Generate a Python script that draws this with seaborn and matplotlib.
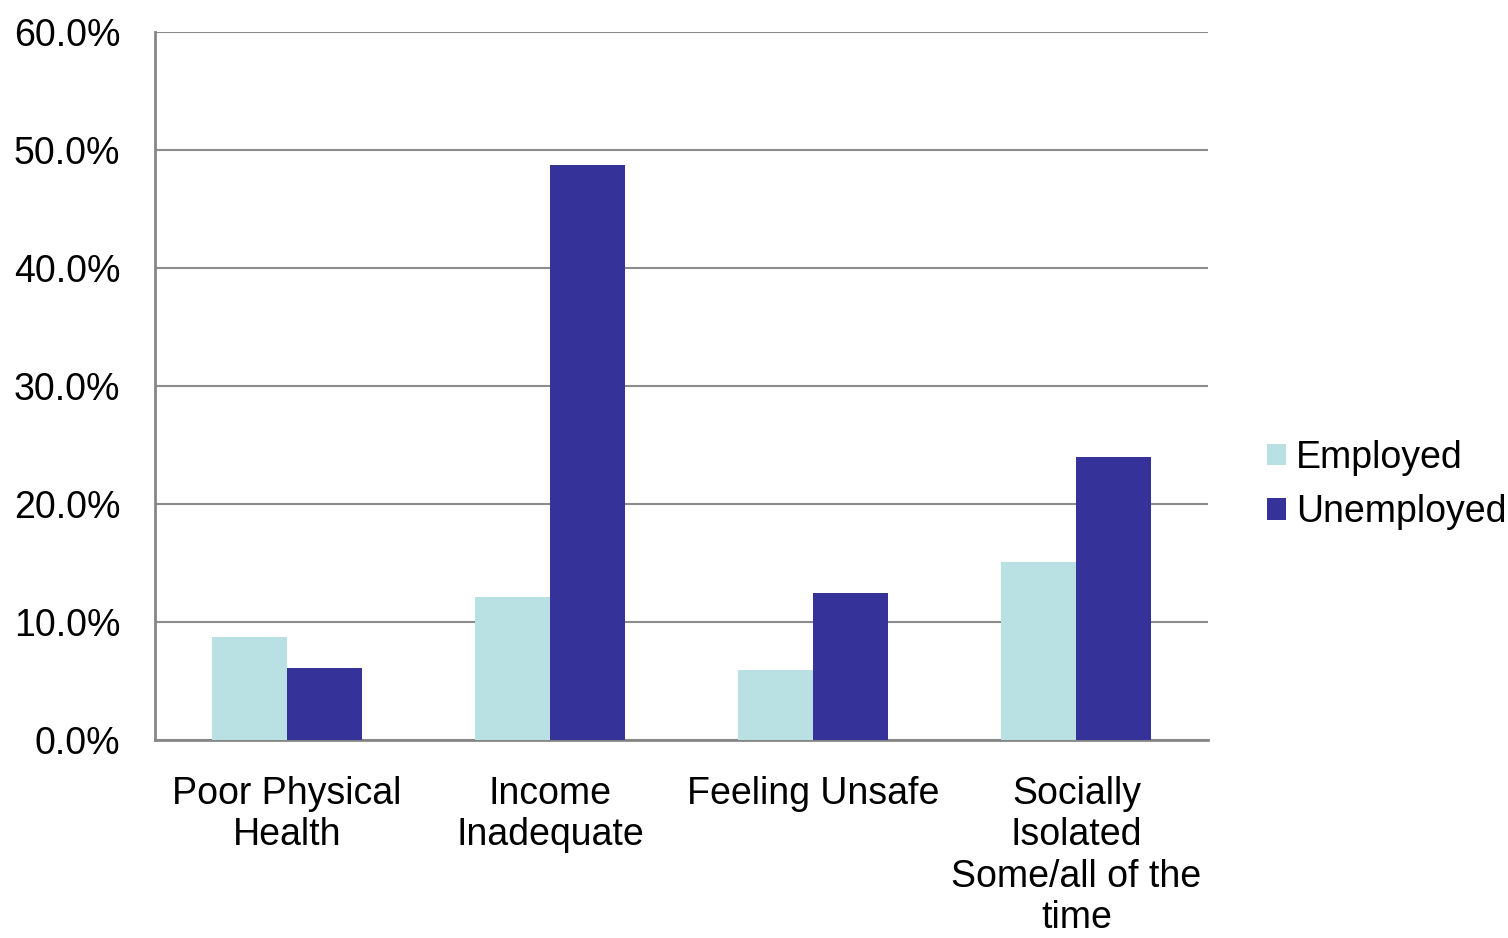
import matplotlib
matplotlib.use('Agg')
import matplotlib.pyplot as plt
from matplotlib import font_manager
import pandas as pd
import seaborn as sns
from matplotlib.ticker import PercentFormatter

# Data
categories = ['Poor Physical\nHealth', 'Income\nInadequate', 'Feeling Unsafe',
              'Socially\nIsolated\nSome/all of the\ntime']
employed = [8.7, 12.1, 5.9, 15.1]
unemployed = [6.1, 48.7, 12.5, 24.0]
groups = ['Employed', 'Unemployed']
colors = ['#B9E0E3', '#353399']

df = pd.DataFrame({
    'category': categories * 2,
    'status': [groups[0]] * 4 + [groups[1]] * 4,
    'value': employed + unemployed,
})

sns.set_style('white')

# pick the regular (non-narrow) Liberation Sans file explicitly
font_file = None
for f in font_manager.fontManager.ttflist:
    fn = f.fname.lower()
    if 'liberationsans' in fn.replace('-', '').replace('_', '') and 'narrow' not in fn \
            and f.style == 'normal' and f.weight in (400, 'normal', 'regular'):
        font_file = f.fname
        break
if font_file:
    fp = font_manager.FontProperties(fname=font_file, size=27)
else:
    fp = font_manager.FontProperties(family='Liberation Sans', size=27)

fig = plt.figure(figsize=(15.08, 9.38), dpi=100)
ax = fig.add_axes([155 / 1508, 1 - 740 / 938, (1208 - 155) / 1508, (740 - 32) / 938])

sns.barplot(data=df, x='category', y='value', hue='status', palette=colors,
            width=0.57, saturation=1, linewidth=0, ax=ax, zorder=3)

# Axis styling
ax.set_ylim(0, 60)
ax.set_xlim(-0.5, 3.5)
ax.set_yticks(range(0, 61, 10))
ax.yaxis.set_major_formatter(PercentFormatter(decimals=1))
ax.grid(axis='y', color='#8C8C8C', linewidth=1.5, zorder=0)
ax.set_axisbelow(True)
for side in ['top', 'right']:
    ax.spines[side].set_visible(False)
for side in ['left', 'bottom']:
    ax.spines[side].set_color('#868686')
    ax.spines[side].set_linewidth(2)
ax.tick_params(axis='y', length=0, pad=25)
ax.tick_params(axis='x', length=0, pad=26)
for lbl in ax.get_xticklabels() + ax.get_yticklabels():
    lbl.set_fontproperties(fp)
    lbl.set_color('black')
for lbl in ax.get_xticklabels():
    lbl.set_linespacing(1.19)
ax.set_xlabel('')
ax.set_ylabel('')

# Legend at the right
leg = ax.legend(loc='center left', bbox_to_anchor=(1.024, 0.36), frameon=False,
                prop=fp, handlelength=0.5, handleheight=0.5, handletextpad=0.28,
                labelspacing=0.5)
for t in leg.get_texts():
    t.set_color('black')

fig.savefig('out.png', dpi=100)
